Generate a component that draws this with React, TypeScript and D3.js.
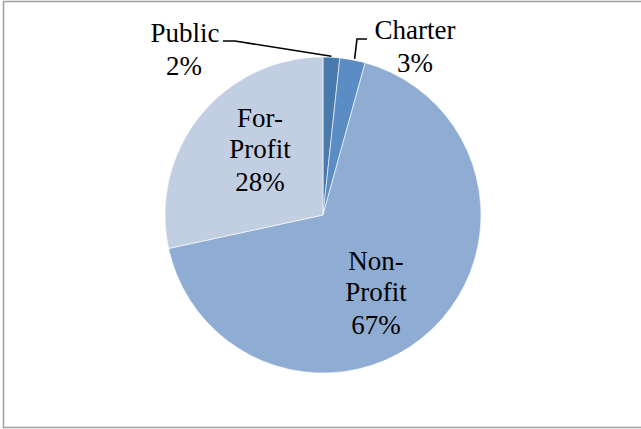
import React from "react";
import * as d3 from "d3";

const categories = ["Public", "Charter", "Non-Profit", "For-Profit"];
const values = [1.7, 2.6, 67.3, 28.4];
const percentLabels = ["2%", "3%", "67%", "28%"];
const colors = ["#4a7aac", "#5b8cc3", "#8fadd3", "#c2cfe3"];

const W = 641;
const H = 429;
const cx = 323;
const cy = 215;
const R = 158;
const FONT = "'Liberation Serif', 'DejaVu Serif', serif";
const FS = 27;

export default function App() {
  const pie = d3.pie<number>().sort(null).value((d) => d)(values);
  const arc = d3.arc<d3.PieArcDatum<number>>().innerRadius(0).outerRadius(R);

  const outer = (a: d3.PieArcDatum<number>) => {
    const m = (a.startAngle + a.endAngle) / 2;
    return [Math.sin(m) * R, -Math.cos(m) * R];
  };
  const pPub = outer(pie[0]);
  const pCh = outer(pie[1]);

  return (
    <svg
      width={W}
      height={H}
      style={{ position: "absolute", left: 0, top: 0, background: "#fff" }}
    >
      <rect x={3.5} y={1.5} width={W + 10} height={426} fill="#fff" stroke="#a3a3a3" strokeWidth={1.6} />
      <g transform={`translate(${cx},${cy})`}>
        {pie.map((p, i) => (
          <path key={categories[i]} d={arc(p) || ""} fill={colors[i]} stroke="#ffffff" strokeWidth={0.6} />
        ))}
        <polyline
          points={`${223 - cx},${41 - cy} ${235 - cx},${41 - cy} ${pPub[0]},${pPub[1] - 1}`}
          fill="none"
          stroke="#000"
          strokeWidth={1.6}
        />
        <polyline
          points={`${pCh[0] + 2},${pCh[1] - 1} ${357 - cx},${39 - cy} ${367 - cx},${39 - cy}`}
          fill="none"
          stroke="#000"
          strokeWidth={1.6}
        />
      </g>
      <g fontFamily={FONT} fontSize={FS} fill="#000" textAnchor="middle">
        <text x={185} y={42}>{categories[0]}</text>
        <text x={184} y={75}>{percentLabels[0]}</text>
        <text x={415} y={39}>{categories[1]}</text>
        <text x={415} y={72}>{percentLabels[1]}</text>
        <text x={260} y={127}>For-</text>
        <text x={260} y={158}>Profit</text>
        <text x={260} y={191}>{percentLabels[3]}</text>
        <text x={376} y={270}>Non-</text>
        <text x={376} y={301}>Profit</text>
        <text x={376} y={334}>{percentLabels[2]}</text>
      </g>
    </svg>
  );
}
